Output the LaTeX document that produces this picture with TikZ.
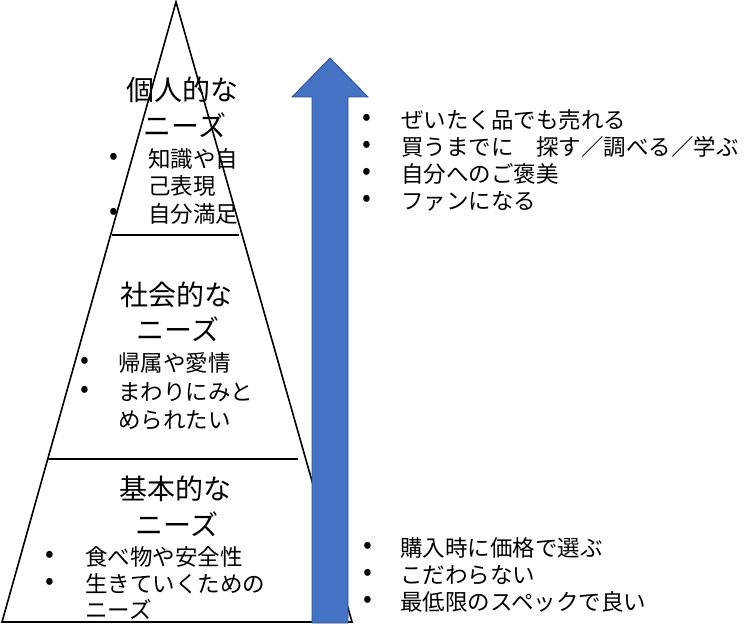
\documentclass[tikz,border=0pt]{standalone}
\usepackage{fontspec}
\newfontfamily\jpfont{Noto Sans CJK JP}
\definecolor{needblue}{HTML}{4472C4}
\definecolor{neededge}{HTML}{2F528F}
\tikzset{
	title/.style={font=\jpfont\fontsize{28}{32}\selectfont, inner sep=0},
	item/.style={font=\jpfont\fontsize{22.5}{27}\selectfont, inner sep=0, anchor=west},
	bullet/.style={font=\jpfont\fontsize{26}{30}\selectfont, inner sep=0},
}

\begin{document}
\begin{tikzpicture}[x=1pt,y=-1pt]
	\useasboundingbox (0,0) rectangle (749,628);
	% pyramid
	\draw[line width=1.6] (176,2) -- (2,622) -- (352,622) -- cycle;
	\draw[line width=1.6] (112,235) -- (239,235);
	\draw[line width=1.6] (48,459) -- (298,459);
	% arrow
	\draw[fill=needblue, draw=neededge, line width=0.8] (312,623) -- (312,97) -- (292,97) -- (330,58) -- (368,97) -- (348,97) -- (348,623) -- cycle;
	% top
	\node[title] (top1) at (182,90) {個人的な};
	\node[title] (top2) at (185,125) {ニーズ};
	\node[item] (topa) at (148,159) {知識や自};
	\node[item] (topb) at (148,186) {己表現};
	\node[item] (topc) at (148,214) {自分満足};
	\foreach \y [count=\i] in {159,214} \node[bullet] (topdot\i) at (114,\y) {•};
	% middle
	\node[title] (mid1) at (176,295) {社会的な};
	\node[title] (mid2) at (178,329) {ニーズ};
	\node[item] (mida) at (118,363) {帰属や愛情};
	\node[item] (midb) at (118,392) {まわりにみと};
	\node[item] (midc) at (118,420) {められたい};
	\foreach \y [count=\i] in {363,392} \node[bullet] (middot\i) at (85,\y) {•};
	% bottom
	\node[title] (bot1) at (175,489) {基本的な};
	\node[title] (bot2) at (177,524) {ニーズ};
	\node[item] (bota) at (85,557) {食べ物や安全性};
	\node[item] (botb) at (85,584) {生きていくための};
	\node[item] (botc) at (85,609) {ニーズ};
	\foreach \y [count=\i] in {557,584} \node[bullet] (botdot\i) at (50,\y) {•};
	% right side
	\node[item] (high1) at (401,120) {ぜいたく品でも売れる};
	\node[item] (high2) at (401,147) {買うまでに　探す／調べる／学ぶ};
	\node[item] (high3) at (401,174) {自分へのご褒美};
	\node[item] (high4) at (401,201) {ファンになる};
	\foreach \y [count=\i] in {120,147,174,201} \node[bullet] (highdot\i) at (367,\y) {•};
	\node[item] (low1) at (400,548) {購入時に価格で選ぶ};
	\node[item] (low2) at (400,575) {こだわらない};
	\node[item] (low3) at (400,602) {最低限のスペックで良い};
	\foreach \y [count=\i] in {548,575,602} \node[bullet] (lowdot\i) at (368,\y) {•};
\end{tikzpicture}
\end{document}
